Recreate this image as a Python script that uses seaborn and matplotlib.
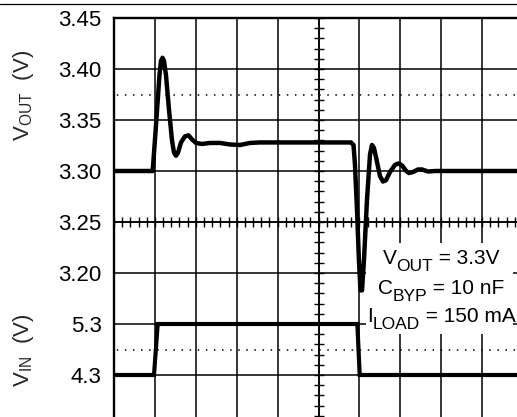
import numpy as np
import matplotlib
matplotlib.use("Agg")
import matplotlib.pyplot as plt
from matplotlib.patches import Rectangle
from matplotlib.lines import Line2D
from matplotlib.ticker import MultipleLocator
from matplotlib.offsetbox import TextArea, HPacker, VPacker, DrawingArea, AnnotationBbox
import seaborn as sns

# ---------------- data (time in scope divisions) ----------------
vout_time = [0, 0.946, 1.027, 1.112, 1.149, 1.186, 1.222, 1.271, 1.345, 1.418,
             1.467, 1.516, 1.565, 1.638, 1.736, 1.822, 1.907, 2.005, 2.152, 2.347,
             2.592, 2.836, 3.081, 3.325, 3.570, 4.059, 4.548, 5.037, 5.526, 5.795,
             5.856, 5.892, 5.941, 5.990, 6.027, 6.064, 6.112, 6.186, 6.259, 6.308,
             6.357, 6.430, 6.504, 6.577, 6.650, 6.748, 6.870, 6.956, 7.042, 7.144,
             7.213, 7.311, 7.433, 7.531, 7.677, 7.848, 10.0]
vout_volts = [3.300, 3.300, 3.345, 3.394, 3.408, 3.411, 3.408, 3.394, 3.360, 3.330,
              3.318, 3.315, 3.318, 3.328, 3.334, 3.335, 3.331, 3.3275, 3.3265, 3.3275,
              3.3275, 3.326, 3.3255, 3.3275, 3.328, 3.328, 3.328, 3.328, 3.328, 3.328,
              3.3255, 3.306, 3.262, 3.211, 3.183, 3.183, 3.213, 3.272, 3.316, 3.3255,
              3.3225, 3.309, 3.295, 3.2897, 3.291, 3.299, 3.306, 3.3074, 3.3054, 3.300,
              3.298, 3.299, 3.3015, 3.3015, 3.2995, 3.300, 3.300]

vin_time = [0, 0.978, 1.068, 5.95, 6.007, 10.0]
vin_volts = [4.3, 4.3, 5.3, 5.3, 4.3, 4.3]

vout_tick_values = [3.45, 3.40, 3.35, 3.30, 3.25, 3.20]
vout_tick_labels = ["3.45", "3.40", "3.35", "3.30", "3.25", "3.20"]
vin_tick_values = [5.3, 4.3]
vin_tick_labels = ["5.3", "4.3"]

vout_ref = 3.375   # dotted reference lines
vin_ref = 4.8

# conditions note: (symbol, subscript, remainder)
note_main = ["V", "C", "I"]
note_sub = ["OUT", "BYP", "LOAD"]
note_rest = [" = 3.3V", " = 10 nF", " = 150 mA"]

# ---------------- style ----------------
sns.set_style("white")
plt.rcParams["font.family"] = ["Liberation Sans", "DejaVu Sans"]
plt.rcParams["mathtext.default"] = "regular"
FS = 16
FS_NOTE = 15
FS_SUB = 12.5

W, H = 517, 417
fig = plt.figure(figsize=(W / 100, H / 100), dpi=100)
pos = [114 / W, 1 - 426 / H, 409 / W, 408 / H]
ax = fig.add_axes(pos)

vout_lim = (3.05, 3.45)
ax.set_xlim(0, 10)
ax.set_ylim(*vout_lim)

# grid
grid_vals = np.round(np.arange(3.05, 3.4501, 0.05), 2)
ax.set_yticks(grid_vals)
lab_map = dict(zip(vout_tick_values, vout_tick_labels))
ax.set_yticklabels([lab_map.get(float(v), "") for v in grid_vals])
ax.set_xticks(np.arange(0, 11, 1))
ax.set_xticklabels([])
ax.grid(True, color="black", lw=1.1)
ax.set_axisbelow(True)
ax.tick_params(axis="both", length=0, pad=8.8, labelsize=FS, colors="black")
for s in ax.spines.values():
    s.set_color("black")
    s.set_linewidth(1.7)

# dotted reference line (VOUT)
ax.axhline(vout_ref, color="black", lw=1.1, ls=(3.5, (1, 4.3)), zorder=1)

# VOUT trace
sns.lineplot(x=vout_time, y=vout_volts, ax=ax, color="black", lw=3.2,
             sort=False, zorder=5, solid_joinstyle="round", solid_capstyle="round")
ax.set_xlabel("")
ax.set_ylabel("")

# white note box + text
ax.add_patch(Rectangle((6.16, 3.1402), 3.6, 0.0892, facecolor="white",
                       edgecolor="none", zorder=3))
note_tops = [3.2237, 3.1943, 3.1669]
for m, sb, r, yt in zip(note_main, note_sub, note_rest, note_tops):
    t1 = TextArea(m, textprops=dict(size=FS_NOTE, color="black"))
    sp = DrawingArea(0, 7.4)
    t2 = TextArea(sb, textprops=dict(size=FS_SUB, color="black"))
    subbox = VPacker(children=[sp, t2], pad=0, sep=0, align="left")
    t3 = TextArea(r, textprops=dict(size=FS_NOTE, color="black"))
    line = HPacker(children=[t1, subbox, t3], align="top", pad=0, sep=0)
    ab = AnnotationBbox(line, (8.0, yt), xycoords="data", box_alignment=(0.5, 1.0),
                        frameon=False, pad=0, zorder=6)
    ax.add_artist(ab)

# VIN on twin axis
ax2 = ax.twinx()
ax2.set_ylim(3.3, 11.3)
sns.lineplot(x=vin_time, y=vin_volts, ax=ax2, color="black", lw=3.0,
             sort=False, zorder=5, solid_joinstyle="miter")
ax2.axhline(vin_ref, color="black", lw=1.1, ls=(3.5, (1, 4.3)), zorder=1)
ax2.set_ylabel("")
ax2.yaxis.tick_left()
ax2.set_yticks(vin_tick_values)
ax2.set_yticklabels(vin_tick_labels)
ax2.tick_params(axis="y", length=0, pad=8.8, labelsize=FS, colors="black",
                right=False, labelright=False, left=True, labelleft=True)
for s in ax2.spines.values():
    s.set_visible(False)

# center crosshair with minor ticks
axc = fig.add_axes(pos, facecolor="none")
axc.set_xlim(0, 10)
axc.set_ylim(*vout_lim)
axc.spines["left"].set_position(("data", 5))
axc.spines["bottom"].set_position(("data", 3.25))
axc.spines["right"].set_visible(False)
axc.spines["top"].set_visible(False)
for k in ("left", "bottom"):
    axc.spines[k].set_linewidth(1.1)
    axc.spines[k].set_color("black")
axc.xaxis.set_major_locator(MultipleLocator(0.2))
axc.yaxis.set_major_locator(MultipleLocator(0.01))
axc.tick_params(direction="inout", length=7, width=1.0, colors="black",
                bottom=True, left=True, top=False, right=False,
                labelleft=False, labelbottom=False)

# axis titles
ax.text(-0.2078, 0.811, r"V$_{OUT}$  (V)", transform=ax.transAxes, rotation=90,
        rotation_mode="anchor", ha="center", va="baseline", fontsize=FS)
ax.text(-0.2078, 0.1863, r"V$_{IN}$  (V)", transform=ax.transAxes, rotation=90,
        rotation_mode="anchor", ha="center", va="baseline", fontsize=FS)

# thin frame line at top of figure
fig.add_artist(Line2D([0, 1], [1 - 4.3 / H, 1 - 4.3 / H], transform=fig.transFigure,
                      color="black", lw=0.9))

fig.savefig("out.png", dpi=100)
